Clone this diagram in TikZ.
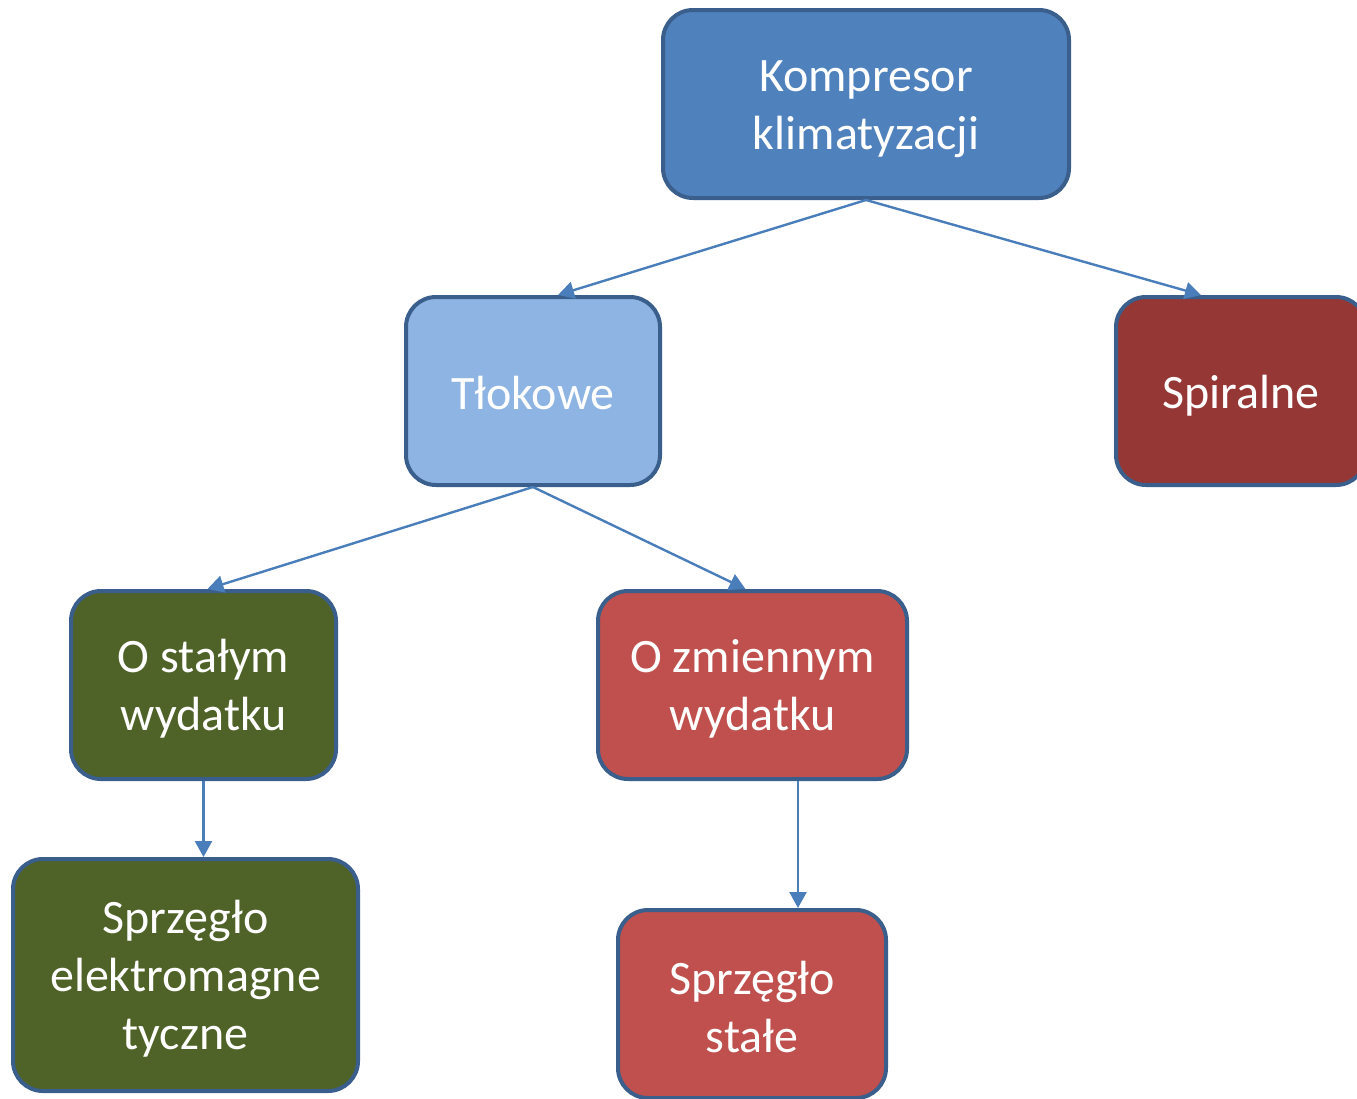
\documentclass[tikz,border=0pt]{standalone}
\usepackage{fontspec}
\setmainfont{Carlito}
\usetikzlibrary{arrows.meta,calc}
\definecolor{lineblue}{HTML}{4A7EBB}
\definecolor{borderblue}{HTML}{3A5F8C}
\definecolor{fillA}{HTML}{4F81BD}
\definecolor{fillB}{HTML}{8EB4E3}
\definecolor{fillC}{HTML}{953735}
\definecolor{fillD}{HTML}{4F6228}
\definecolor{fillE}{HTML}{C0504D}
\newcommand\tp[1]{\rule{0pt}{#1pt}}
\newcommand\bt[1]{\rule[-#1pt]{0pt}{0pt}}
\tikzset{
  box/.style={draw=borderblue, line width=4pt, rounded corners=30pt, rectangle,
    text=white, align=center, inner sep=0pt,
    font=\fontsize{48}{58}\selectfont},
  conn/.style={draw=lineblue, line width=2.4pt, -{Triangle[length=16pt,width=17pt]}}
}
\begin{document}
\begin{tikzpicture}[x=1pt,y=-1pt]
\useasboundingbox (0,0) rectangle (1357,1098);
\node[box, fill=fillA, minimum width=406pt, minimum height=188pt] (komp) at (866,104) {\tp{45}Kompresor\\klimatyzacji\bt{12}};
\node[box, fill=fillB, minimum width=254pt, minimum height=188pt] (tlok) at (533,391) {\tp{38}Tłokowe};
\node[box, fill=fillC, minimum width=250pt, minimum height=188pt] (spir) at (1241,391) {\tp{46}Spiralne\bt{12}};
\node[box, fill=fillD, minimum width=265pt, minimum height=188pt] (stal) at (203.5,685) {\tp{45}O stałym\\wydatku\bt{12}};
\node[box, fill=fillE, minimum width=309pt, minimum height=188pt] (zmien) at (752.5,685) {\tp{45}O zmiennym\\wydatku\bt{12}};
\node[box, fill=fillD, minimum width=345pt, minimum height=232pt] (elek) at (185.5,975) {\tp{45}Sprzęgło\\elektromagne\\tyczne\bt{12}};
\node[box, fill=fillE, minimum width=268pt, minimum height=188pt] (stale) at (752,1004) {\tp{50}Sprzęgło\\stałe\bt{12}};
\coordinate (zs) at ($(zmien.south)+(45.5,0)$);
\coordinate (st) at (zs |- stale.north);
\draw[conn] (komp.south) -- ($(tlok.north)+(25,0)$);
\draw[conn] (komp.south) -- ($(spir.north)+(-40,0)$);
\draw[conn] (tlok.south) -- ($(stal.north)+(4,0)$);
\draw[conn] (tlok.south) -- ($(zmien.north)+(-7,0)$);
\draw[conn] (stal.south) -- (stal.south |- elek.north);
\draw[conn] (zs) -- (st);
\end{tikzpicture}
\end{document}
